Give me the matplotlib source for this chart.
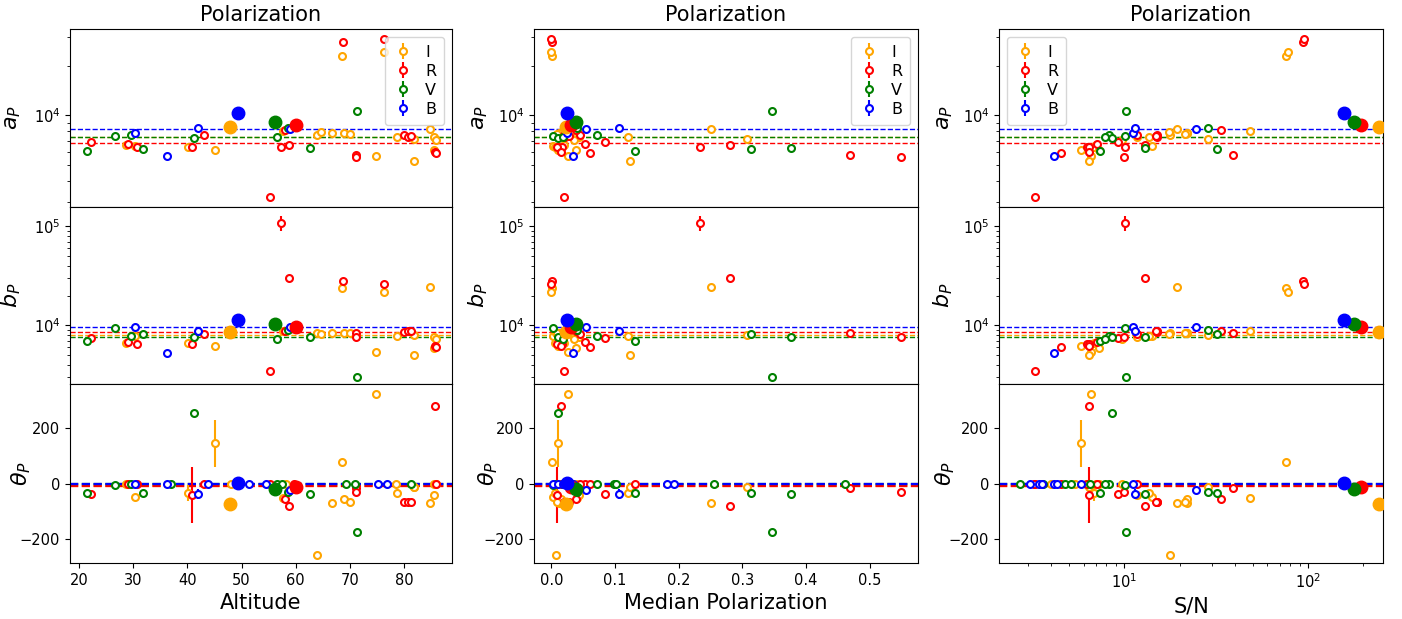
import numpy as np
import matplotlib
matplotlib.use("Agg")
import matplotlib.pyplot as plt
from matplotlib.ticker import NullFormatter

nan = np.nan

filters = ["I", "R", "V", "B"]
colors = ["orange", "red", "green", "blue"]

# ---------------- I filter ----------------
alt_I = [28.7, 30.4, 40.1, 45.1, 57.7, 63.9, 64.7, 66.7, 68.5, 68.9, 70.0, 74.9, 76.4, 78.8, 81.9, 81.9, 84.9, 85.6, 85.9, 85.6, 48.0, 58.3, 78.5]
mp_I = [0.020, 0.003, 0.005, 0.0105, 0.040, 0.007, 0.030, 0.012, 0.001, 0.015, 0.009, 0.026, 0.0, 0.120, 0.307, 0.123, 0.251, 0.044, 0.035, 0.038, 0.005, 0.020, 0.013]
snr_I = [7.0, 14.2, 6.8, 5.78, 48.6, 17.7, 17.5, 21.9, 76, 22.0, 21.5, 6.6, 78, 13.7, 28.4, 6.44, 19.4, 11.7, 9.7, 7.3, 4.0, 6.2, 5.4]
a_I = [6590, 6500, 6440, 6150, 8100, 7580, 7900, 7800, 22800, 7800, 7690, 5690, 24200, 7410, 7240, 5270, 8280, 7380, 7080, 6180, nan, nan, nan]
b_I = [6580, 7800, 6580, 6140, 8770, 8300, 8110, 8300, 23800, 8300, 8300, 5330, 21700, 7740, 7930, 4980, 24400, 7570, 7220, 5860, nan, nan, nan]
th_I = [0, -47, -35, 146, -53, -258, nan, -69, 77, -57, -65, 326, nan, -33, -11, -11, -69, -41, 0, 0, 0, 0, 0]
th_err_I = [0, 0, 29, 85, 0, 0, 0, 0, 0, 0, 0, 0, 0, 0, 0, 0, 0, 0, 0, 0, 0, 0, 0]

# ---------------- R filter ----------------
alt_R = [22.1, 29.1, 30.6, 40.9, 43.1, 55.3, 57.3, 58.0, 58.8, 68.8, 71.1, 71.1, 76.4, 80.1, 80.7, 81.4, 85.7, 85.9, 59.7]
mp_R = [0.084, 0.053, 0.016, 0.009, 0.045, 0.019, 0.234, 0.039, 0.280, 0.001, 0.469, 0.549, 0.0, 0.019, 0.021, 0.027, 0.015, 0.061, 0.131]
snr_R = [9.2, 7.07, 6.3, 6.45, 11.8, 3.28, 10.1, 33.4, 12.9, 94, 39.3, 10.0, 95, 15.0, 15.1, 14.8, 6.44, 4.55, 3.23]
a_R = [6880, 6710, 6440, 6440, 7630, 3220, 6440, 8130, 6590, 27800, 5770, 5570, 29100, 7630, 7450, 7500, 6000, 5900, nan]
b_R = [7390, 6730, 6430, 6430, 8110, 3460, 109000, 8800, 30000, 28100, 8300, 7570, 26200, 8630, 8840, 8700, 6180, 6040, nan]
b_err_R = [0, 0, 0, 0, 0, 0, 19000, 0, 0, 0, 0, 0, 0, 0, 0, 0, 0, 0, 0]
th_R = [-37, 0, 0, -41, 0, 0, nan, -54, -81, nan, -17, -29, nan, -65, -65, -65, 283, 0, 0]
th_err_R = [0, 0, 0, 101, 0, 0, 0, 0, 0, 0, 0, 0, 0, 0, 0, 0, 0, 0, 0]

# ---------------- V filter ----------------
alt_V = [21.4, 26.7, 29.6, 31.7, 41.3, 56.5, 58.5, 62.7, 71.4, 37.0, 57.4, 69.4, 70.9, 81.4]
mp_V = [0.132, 0.003, 0.071, 0.314, 0.0105, 0.018, 0.040, 0.377, 0.347, 0.098, 0.101, 0.256, 0.461, 0.005]
snr_V = [7.4, 10.1, 8.3, 31.8, 8.6, 7.9, 28.4, 13.0, 10.2, 2.70, 4.74, 5.12, 6.50, 3.6]
a_V = [6090, 7480, 7580, 6240, 7310, 7410, 8360, 6350, 10600, nan, nan, nan, nan, nan]
a_err_V = [0, 0, 0, 0, 0, 0, 0, 0, 400, 0, 0, 0, 0, 0]
b_V = [6890, 9330, 7740, 8110, 7570, 7280, 9040, 7620, 3000, nan, nan, nan, nan, nan]
th_V = [-33, -5, 0, -33, 257, 0, -29, -36, -174, 0, 0, 0, 0, 0]

# ---------------- B filter ----------------
alt_B = [30.4, 36.3, 41.9, 58.9, 43.8, 51.4, 54.6, 75.2, 76.8]
mp_B = [0.024, 0.034, 0.106, 0.055, 0.003, 0.010, 0.018, 0.182, 0.193]
snr_B = [11.2, 4.15, 11.5, 24.5, 3.08, 3.44, 3.58, 5.8, 4.3]
a_B = [7800, 5690, 8360, 8280, nan, nan, nan, nan, nan]
b_B = [9550, 5210, 8700, 9550, nan, nan, nan, nan, nan]
th_B = [0, 0, -36, -23, 0, 0, 0, 0, 0]
th_err_B = [0, 0, 18, 0, 0, 0, 0, 0, 0]

# ---------------- combined (filled) values, order I, R, V, B ----------------
avg_alt = [47.8, 60.1, 56.2, 49.3]
avg_mp = [0.023, 0.0315, 0.039, 0.0246]
avg_snr = [245, 195, 178, 158]
avg_a = [8500, 8800, 9100, 10300]
avg_b = [8500, 9600, 10200, 11200]
avg_th = [-72, -13, -18, 3]

# ---------------- reference levels (dashed), order I, R, V, B ----------------
ref_a = [7440, 6780, 7440, 8280]
ref_b = [8070, 8500, 7680, 9550]
ref_th = [-9, -8, -1, 0]

xlabels = ["Altitude", "Median Polarization", "S/N"]
ylabels = [r"$a_P$", r"$b_P$", r"$\theta_P$"]

data = {
    "I": dict(x=[alt_I, mp_I, snr_I], y=[a_I, b_I, th_I], err=[None, None, th_err_I]),
    "R": dict(x=[alt_R, mp_R, snr_R], y=[a_R, b_R, th_R], err=[None, b_err_R, th_err_R]),
    "V": dict(x=[alt_V, mp_V, snr_V], y=[a_V, b_V, th_V], err=[a_err_V, None, None]),
    "B": dict(x=[alt_B, mp_B, snr_B], y=[a_B, b_B, th_B], err=[None, None, th_err_B]),
}
avg_x = [avg_alt, avg_mp, avg_snr]
avg_y = [avg_a, avg_b, avg_th]
refs = [ref_a, ref_b, ref_th]

W, H = 1402, 619
fig = plt.figure(figsize=(W / 100, H / 100), dpi=100)

col_left = [70, 534, 999]
col_w = [382, 384, 384]
row_top = [29, 207, 384]
row_bot = [207, 384, 563]

xlims = [(18.3, 88.9), (-0.0274, 0.576), (2.08, 256)]
ylims = [(2790, 33400), (2550, 157000), (-287, 361)]
legend_loc = ["upper right", "upper right", "upper left"]
label_x = [[-0.122, -0.122, -0.097], [-0.115, -0.115, -0.089], [-0.115, -0.115, -0.11]]

for c in range(3):
    axes = []
    for r in range(3):
        rect = [col_left[c] / W, 1 - row_bot[r] / H, col_w[c] / W, (row_bot[r] - row_top[r]) / H]
        ax = fig.add_axes(rect, sharex=axes[0] if axes else None)
        axes.append(ax)
        for k, f in enumerate(filters):
            d = data[f]
            x = np.array(d["x"][c], dtype=float)
            y = np.array(d["y"][r], dtype=float)
            e = d["err"][r]
            e = np.zeros_like(y) if e is None else np.array(e, dtype=float)
            ax.errorbar(x, y, yerr=e, fmt="o", color=colors[k], mfc="white",
                        ms=5, mew=1.5, elinewidth=1.5, label=f, zorder=3)
        for k, f in enumerate(filters):
            ax.errorbar([avg_x[c][k]], [avg_y[r][k]], fmt="o", color=colors[k],
                        ms=9, zorder=4)
        for k in range(4):
            ax.axhline(refs[r][k], color=colors[k], ls="--",
                       lw=1.0 if r < 2 else 1.6, zorder=2)
        if r < 2:
            ax.set_yscale("log")
            ax.yaxis.set_minor_formatter(NullFormatter())
        ax.set_ylim(*ylims[r])
        ax.set_ylabel(ylabels[r], fontsize=16)
        ax.yaxis.set_label_coords(label_x[c][r], 0.5)
        ax.tick_params(labelsize=10.5)
        if r < 2:
            ax.tick_params(labelbottom=False)
    if c == 2:
        axes[0].set_xscale("log")
    axes[0].set_xlim(*xlims[c])
    axes[0].set_title("Polarization", fontsize=15)
    axes[0].legend(loc=legend_loc[c], fontsize=11.5, labelspacing=0.25,
                   handlelength=1.2, borderpad=0.5)
    axes[2].set_xlabel(xlabels[c], fontsize=15)

fig.savefig("out.png", dpi=100)
